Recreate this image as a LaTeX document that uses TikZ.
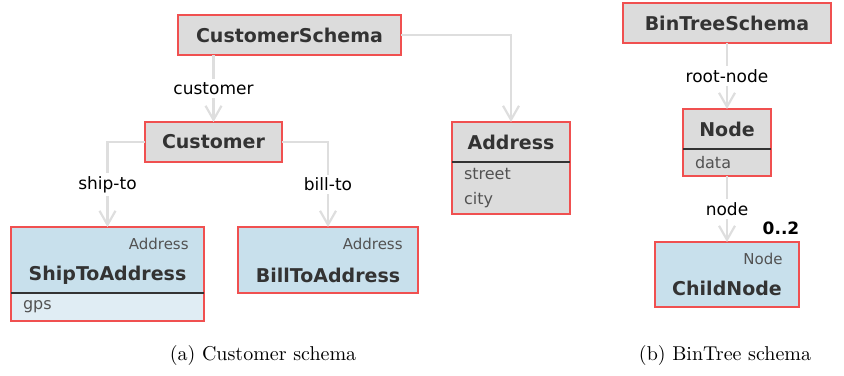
\documentclass[tikz,border=0pt]{standalone}
\usepackage{fontspec}
\usepackage{tikz}
\usetikzlibrary{positioning,arrows.meta}
\newfontfamily\diafont{DejaVu Sans}
\definecolor{boxred}{RGB}{240,80,80}
\definecolor{boxgray}{RGB}{220,220,220}
\definecolor{boxblue}{RGB}{200,224,236}
\definecolor{attrblue}{RGB}{224,237,244}
\definecolor{linkgray}{RGB}{222,222,222}
\definecolor{textgray}{RGB}{51,51,51}
\tikzset{class node/.style={draw=boxred,fill=boxgray,line width=0.9pt,inner sep=0pt,outer sep=0pt,minimum height=20pt,text=textgray,font=\diafont\bfseries\fontsize{9.5}{11}\selectfont}}
\tikzset{sub node/.style={class node,fill=boxblue}}
\tikzset{attr node/.style={draw=boxred,fill=boxgray,line width=0.9pt,inner xsep=6pt,inner ysep=0pt,outer sep=0pt,align=left,text=textgray!85,font=\diafont\fontsize{8}{12.5}\selectfont}}
\tikzset{type label/.style={anchor=north east,inner sep=0pt,text=textgray!85,font=\diafont\fontsize{7.5}{9}\selectfont}}
\tikzset{name label/.style={inner sep=0pt,text=textgray,font=\diafont\bfseries\fontsize{9.5}{11}\selectfont}}
\tikzset{edge label/.style={fill=white,inner sep=1.5pt,text=black,font=\diafont\fontsize{8.5}{10}\selectfont}}
\tikzset{link/.style={draw=linkgray,line width=1.1pt,-{Straight Barb[length=7pt,width=8pt]}}}

\begin{document}
\begin{tikzpicture}[x=0.5pt,y=-0.5pt]
            \useasboundingbox (0,0) rectangle (844,375);

            % customer schema
            \node[class node, minimum width=111.5pt] (cs) at (289.5,35) {CustomerSchema};
            \node[class node, minimum width=68.5pt] (cust) at (213.5,142) {Customer};
            \node[class node, minimum width=59pt] (addr) at (511,142) {Address};
            \node[attr node, text width=47pt, minimum height=26pt] (addrattr) [below = 0pt of addr] {street\\city};
            \node[sub node, minimum width=96.5pt, minimum height=33pt] (ship) at (107.5,260) {};
            \node[attr node, fill=attrblue, text width=84.5pt, minimum height=14pt] (shipattr) [below = 0pt of ship] {gps};
            \node[sub node, minimum width=90pt, minimum height=33pt] (bill) at (328,260) {};
            \node[type label] (shiptype) at ([shift={(-15,11)}]ship.north east) {Address};
            \node[name label] (shipname) at ([shift={(0,15)}]ship.center) {ShipToAddress};
            \node[type label] (billtype) at ([shift={(-15,11)}]bill.north east) {Address};
            \node[name label] (billname) at ([shift={(0,15)}]bill.center) {BillToAddress};
            \draw[textgray, line width=0.7pt] (addrattr.north west) -- (addrattr.north east);
            \draw[textgray, line width=0.7pt] (shipattr.north west) -- (shipattr.north east);

            \draw[link] (cs.south -| cust.north) -- node[edge label] {customer} (cust);
            \draw[link] (cs) -| (addr);
            \draw[link] (cust) -| node[edge label, pos=0.75] {ship-to} (ship);
            \draw[link] (cust) -| node[edge label, pos=0.75] {bill-to} (bill);

            % bintree schema
            \node[class node, minimum width=104pt] (bts) at (727,23) {BinTreeSchema};
            \node[class node, minimum width=44pt] (nd) at (727,129) {Node};
            \node[attr node, text width=32pt, minimum height=13.5pt] (ndattr) [below = 0pt of nd] {data};
            \node[sub node, minimum width=72pt, minimum height=32.5pt] (child) at (727,274.5) {};
            \node[type label] (childtype) at ([shift={(-16,11)}]child.north east) {Node};
            \node[name label] (childname) at ([shift={(0,14)}]child.center) {ChildNode};
            \node[edge label, fill=none, font=\diafont\bfseries\fontsize{8.5}{10}\selectfont] (mult) at ([shift={(-18,-14)}]child.north east) {0..2};
            \draw[textgray, line width=0.7pt] (ndattr.north west) -- (ndattr.north east);

            \draw[link] (bts) -- node[edge label] {root-node} (nd);
            \draw[link] (ndattr) -- node[edge label] {node} (child);

            % captions
            \node (capa) at (263,355) {(a) Customer schema};
            \node (capb) at (725,355) {(b) BinTree schema};
        \end{tikzpicture}
\end{document}
